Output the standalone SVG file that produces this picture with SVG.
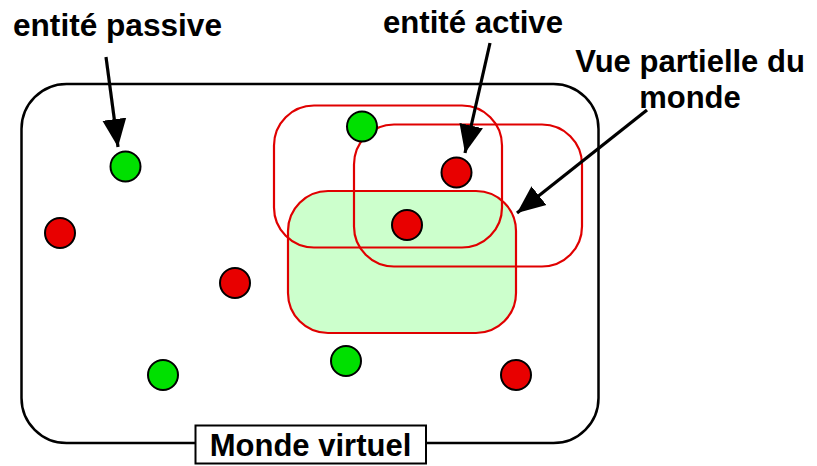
<svg xmlns="http://www.w3.org/2000/svg" width="817" height="466" viewBox="0 0 817 466">
<defs>
<style>
.t{font-family:"Liberation Sans",Arial,sans-serif;font-weight:bold;font-size:31px;fill:#000}
.view{fill:none;stroke:#e00000;stroke-width:2.2}
.pas{fill:#00e000;stroke:#000;stroke-width:2}
.act{fill:#e80000;stroke:#000;stroke-width:2}
.arr{stroke:#000;stroke-width:3.2;fill:none}
</style>
<marker id="ah" markerUnits="userSpaceOnUse" markerWidth="30" markerHeight="26" refX="28" refY="12" orient="auto" viewBox="0 0 30 24">
<path d="M0,0 L28,12 L0,24 Z" fill="#000"/>
</marker>
</defs>
<rect width="817" height="466" fill="#fff"/>
<g id="monde">
<rect x="21.5" y="84" width="577" height="359" rx="45" ry="45" fill="none" stroke="#000" stroke-width="2.5"/>
</g>
<g id="vue3">
<rect x="288" y="191" width="228" height="142" rx="40" ry="40" fill="#ccffcc" stroke="#e00000" stroke-width="2.2"/>
</g>
<g id="vue1">
<rect x="274" y="105.5" width="228" height="142" rx="40" ry="40" class="view"/>
</g>
<g id="vue2">
<rect x="354" y="124.5" width="228" height="142" rx="40" ry="40" class="view"/>
</g>
<g id="entites">
<circle id="p1" cx="125.5" cy="166.5" r="15" class="pas"/>
<circle id="p2" cx="362" cy="126.5" r="15" class="pas"/>
<circle id="p3" cx="163" cy="375" r="15" class="pas"/>
<circle id="p4" cx="346" cy="361" r="15" class="pas"/>
<circle id="a1" cx="456.5" cy="172.5" r="15" class="act"/>
<circle id="a2" cx="407" cy="225" r="15" class="act"/>
<circle id="a3" cx="60" cy="233" r="15" class="act"/>
<circle id="a4" cx="235" cy="283" r="15" class="act"/>
<circle id="a5" cx="516" cy="375" r="15" class="act"/>
</g>
<g id="connectors">
<line x1="106" y1="57" x2="118" y2="147" class="arr" marker-end="url(#ah)"/>
<line x1="490" y1="43" x2="465" y2="153" class="arr" marker-end="url(#ah)"/>
<line x1="647" y1="110" x2="517" y2="213" class="arr" marker-end="url(#ah)"/>
</g>
<g id="label-passive"><text class="t" x="13" y="36" textLength="209" lengthAdjust="spacingAndGlyphs">entité passive</text></g>
<g id="label-active"><text class="t" x="383" y="33" textLength="180" lengthAdjust="spacingAndGlyphs">entité active</text></g>
<g id="label-vue"><text class="t" x="690" y="72" text-anchor="middle">Vue partielle du</text><text class="t" x="690" y="108" text-anchor="middle">monde</text></g>
<g id="label-monde">
<rect x="195.5" y="425.5" width="230.5" height="38" fill="#fff" stroke="#000" stroke-width="2"/>
<text class="t" x="310.5" y="456" text-anchor="middle">Monde virtuel</text>
</g>
</svg>
